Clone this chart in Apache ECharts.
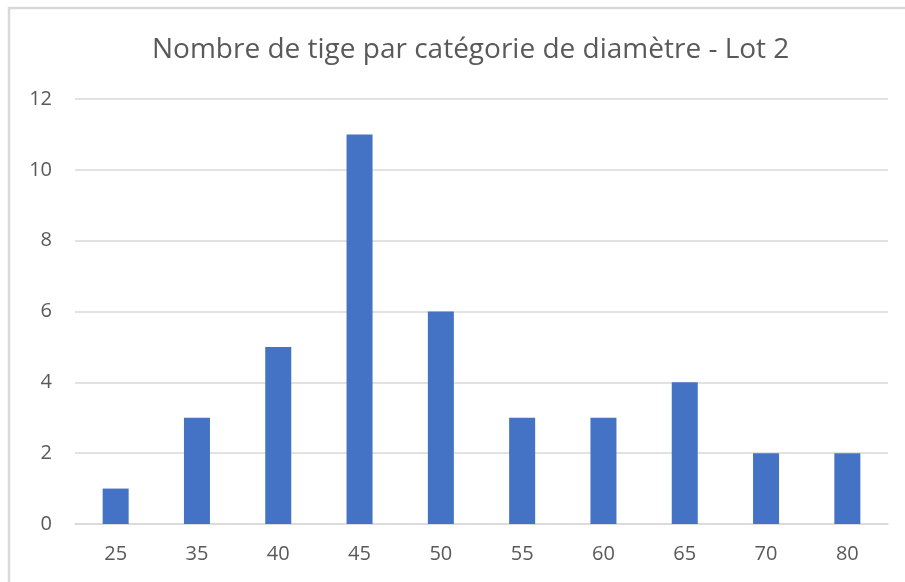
<!DOCTYPE html>
<html>
<head>
<meta charset="utf-8">
<script src="https://cdn.jsdelivr.net/npm/echarts@6/dist/echarts.min.js"></script>
<style>
  html, body { margin: 0; padding: 0; background: #fff; }
  #chart { width: 905px; height: 582px; }
</style>
</head>
<body>
<div id="chart"></div>
<script>
// diameter classes and stem counts
var diametres = ['25', '35', '40', '45', '50', '55', '60', '65', '70', '80'];
var nbTiges = [1, 3, 5, 11, 6, 3, 3, 4, 2, 2];
var yTicks = [0, 2, 4, 6, 8, 10, 12];

var chart = echarts.init(document.getElementById('chart'));
var option = {
  animation: false,
  textStyle: { fontFamily: 'Open Sans' },
  graphic: [{
    type: 'rect',
    shape: { x: 9, y: 8, width: 910, height: 590 },
    style: { fill: 'none', stroke: '#d9d9d9', lineWidth: 2.5 },
    silent: true
  }],
  title: {
    text: 'Nombre de tige par catégorie de diamètre - Lot 2',
    left: 147,
    top: 31,
    textStyle: { fontSize: 28, fontWeight: 'normal', color: '#595959', fontFamily: 'Open Sans' }
  },
  grid: { left: 75, right: 17, top: 99, bottom: 58 },
  xAxis: {
    type: 'category',
    data: diametres,
    axisLine: { lineStyle: { color: '#d9d9d9', width: 1.5 } },
    axisTick: { show: false },
    axisLabel: { color: '#595959', fontSize: 20, margin: 20 }
  },
  yAxis: {
    type: 'value',
    min: yTicks[0],
    max: yTicks[yTicks.length - 1],
    interval: 2,
    axisLine: { show: false },
    axisTick: { show: false },
    axisLabel: { color: '#595959', fontSize: 20, margin: 23 },
    splitLine: { lineStyle: { color: '#d9d9d9', width: 1.5 } }
  },
  series: [{
    type: 'bar',
    data: nbTiges,
    barWidth: '32%',
    itemStyle: { color: '#4472c4' }
  }]
};
chart.setOption(option);
</script>
</body>
</html>
